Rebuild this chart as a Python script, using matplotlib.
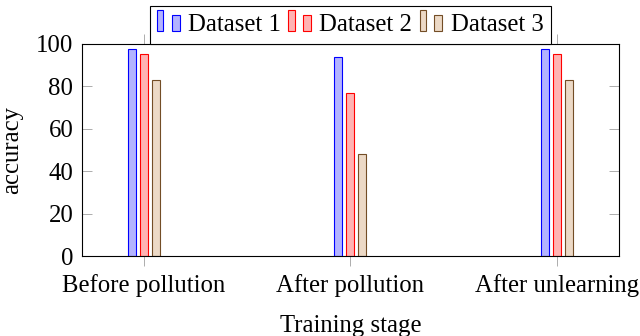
import numpy as np
import matplotlib
matplotlib.use("Agg")
import matplotlib.pyplot as plt
from matplotlib.patches import Rectangle
from matplotlib.legend_handler import HandlerBase

stages = ["Before pollution", "After pollution", "After unlearning"]
dataset1 = [97.3, 93.7, 97.3]
dataset2 = [95.0, 76.8, 95.0]
dataset3 = [82.6, 48.0, 82.6]
series_names = ["Dataset 1", "Dataset 2", "Dataset 3"]
y_ticks = [0, 20, 40, 60, 80, 100]

plt.rcParams["font.family"] = ["Liberation Serif", "DejaVu Serif"]
fs = 17.8

# pgfplots bar cycle colours
edges = ["#0000ff", "#ff0000", "#734d26"]
fills = ["#b3b3ff", "#ffb3b3", "#ecd9c6"]


class TwoBarHandler(HandlerBase):
    # pgfplots style legend image: two little bars
    def __init__(self, fc, ec):
        super().__init__()
        self.fc = fc
        self.ec = ec

    def create_artists(self, legend, orig_handle, xdescent, ydescent,
                       width, height, fontsize, trans):
        r1 = Rectangle((-xdescent, -ydescent), 0.26 * width, 1.2 * height,
                       facecolor=self.fc, edgecolor=self.ec, lw=0.8, transform=trans)
        r2 = Rectangle((-xdescent + 0.62 * width, -ydescent), 0.34 * width, 0.92 * height,
                       facecolor=self.fc, edgecolor=self.ec, lw=0.8, transform=trans)
        return [r1, r2]


fig = plt.figure(figsize=(6.4, 3.36), dpi=100)
ax = fig.add_axes([0.1277, 0.238, 0.967 - 0.1277, 0.8705 - 0.238])

x = np.arange(len(stages))
w = 0.037
off = 0.058
handles = []
for i, vals in enumerate([dataset1, dataset2, dataset3]):
    b = ax.bar(x + (i - 1) * off, vals, width=w, color=fills[i],
               edgecolor=edges[i], linewidth=0.8, label=series_names[i], zorder=3)
    handles.append(b)

ax.set_xlim(-0.3, 2.3)
ax.set_ylim(0, 100)
ax.set_xticks(x)
ax.set_xticklabels(stages, fontsize=fs)
ax.set_yticks(y_ticks)
ax.tick_params(axis="y", direction="in", left=True, right=True, length=7,
               width=0.6, color="#a0a0a0", labelsize=fs, pad=6)
ax.tick_params(axis="x", direction="out", top=True, bottom=True, length=7,
               width=0.6, color="#a0a0a0", labelsize=fs, pad=6)
for s in ax.spines.values():
    s.set_linewidth(0.8)
    s.set_zorder(4)

ax.set_xlabel("Training stage", fontsize=fs, labelpad=13)
ax.set_ylabel("accuracy", fontsize=fs, labelpad=9)

leg = ax.legend(handles=handles, labels=series_names, loc="lower center",
                bbox_to_anchor=(0.5, 1.0), ncol=3, fontsize=fs, frameon=True,
                fancybox=False, edgecolor="black", framealpha=1,
                borderpad=0.3, handlelength=0.95, handletextpad=0.3,
                columnspacing=0.3, borderaxespad=0,
                handler_map={handles[i]: TwoBarHandler(fills[i], edges[i]) for i in range(3)})
leg.get_frame().set_linewidth(0.8)

fig.savefig("out.png", dpi=100)
